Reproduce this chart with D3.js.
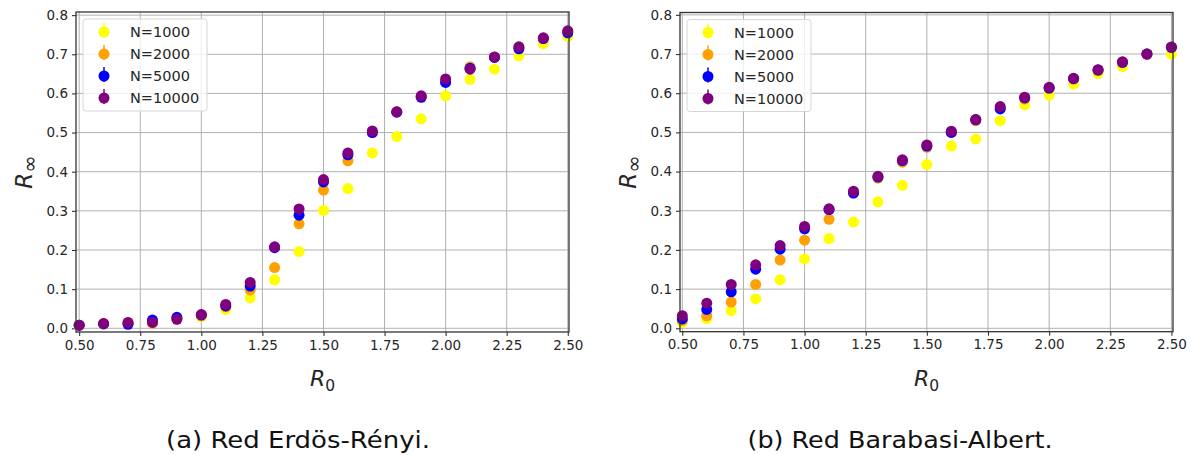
<!DOCTYPE html>
<html>
<head>
<meta charset="utf-8">
<script src="https://cdn.jsdelivr.net/npm/d3@7"></script>
<style>
  html, body { margin: 0; padding: 0; background: #fff; }
  svg { display: block; }
</style>
</head>
<body>
<svg id="chart" width="1195" height="455"></svg>
<script>
// R0 values sampled for both networks
const r0Values = [0.5, 0.6, 0.7, 0.8, 0.9, 1.0, 1.1, 1.2, 1.3, 1.4, 1.5,
                  1.6, 1.7, 1.8, 1.9, 2.0, 2.1, 2.2, 2.3, 2.4, 2.5];

const seriesNames = ["N=1000", "N=2000", "N=5000", "N=10000"];
const seriesColors = ["#ffff00", "#ffa000", "#0000ff", "#800080"];

// Erdös-Rényi network: final epidemic size R_inf per population size
const erN1000  = [0.007, 0.011, 0.013, 0.014, 0.024, 0.030, 0.048, 0.078, 0.124, 0.196, 0.301,
                  0.357, 0.448, 0.490, 0.535, 0.594, 0.636, 0.662, 0.696, 0.727, 0.746];
const erN2000  = [0.008, 0.012, 0.014, 0.013, 0.024, 0.032, 0.055, 0.098, 0.155, 0.267, 0.353,
                  0.428, 0.500, 0.553, 0.592, 0.632, 0.668, 0.693, 0.718, 0.740, 0.758];
const erN5000  = [0.008, 0.011, 0.010, 0.021, 0.028, 0.034, 0.057, 0.108, 0.206, 0.289, 0.374,
                  0.443, 0.500, 0.552, 0.590, 0.628, 0.664, 0.692, 0.714, 0.740, 0.755];
const erN10000 = [0.008, 0.012, 0.015, 0.015, 0.023, 0.035, 0.061, 0.117, 0.208, 0.305, 0.380,
                  0.448, 0.504, 0.553, 0.594, 0.637, 0.662, 0.693, 0.719, 0.742, 0.760];

// Barabasi-Albert network
const baN1000  = [0.015, 0.025, 0.045, 0.075, 0.124, 0.177, 0.229, 0.271, 0.323, 0.365, 0.418,
                  0.465, 0.483, 0.530, 0.570, 0.595, 0.623, 0.650, 0.668, 0.700, 0.700];
const baN2000  = [0.020, 0.032, 0.067, 0.112, 0.174, 0.225, 0.278, 0.345, 0.383, 0.424, 0.462,
                  0.500, 0.530, 0.562, 0.585, 0.612, 0.636, 0.658, 0.678, 0.700, 0.716];
const baN5000  = [0.024, 0.048, 0.093, 0.151, 0.202, 0.254, 0.303, 0.345, 0.386, 0.428, 0.465,
                  0.500, 0.532, 0.560, 0.588, 0.613, 0.637, 0.659, 0.679, 0.700, 0.717];
const baN10000 = [0.032, 0.064, 0.112, 0.162, 0.211, 0.260, 0.305, 0.350, 0.388, 0.430, 0.468,
                  0.503, 0.533, 0.566, 0.590, 0.615, 0.638, 0.660, 0.680, 0.700, 0.718];

const xTicks = [0.50, 0.75, 1.00, 1.25, 1.50, 1.75, 2.00, 2.25, 2.50];
const yTicks = [0.0, 0.1, 0.2, 0.3, 0.4, 0.5, 0.6, 0.7, 0.8];

const captions = ["(a) Red Erdös-Rényi.", "(b) Red Barabasi-Albert."];

const svg = d3.select("#chart");
const tickFont = "DejaVu Sans, sans-serif";
const textColor = "#262626";

function drawPanel(cfg) {
  const x = d3.scaleLinear().domain(cfg.xDomain).range([cfg.left, cfg.right]);
  const y = d3.scaleLinear().domain(cfg.yDomain).range([cfg.bottom, cfg.top]);
  const g = svg.append("g");

  // grid
  g.append("g").selectAll("line.vg").data(xTicks).join("line")
    .attr("x1", d => x(d)).attr("x2", d => x(d))
    .attr("y1", cfg.top).attr("y2", cfg.bottom)
    .attr("stroke", "#b0b0b0").attr("stroke-width", 1);
  g.append("g").selectAll("line.hg").data(yTicks).join("line")
    .attr("x1", cfg.left).attr("x2", cfg.right)
    .attr("y1", d => y(d)).attr("y2", d => y(d))
    .attr("stroke", "#b0b0b0").attr("stroke-width", 1);

  // axes
  const xAxis = d3.axisBottom(x).tickValues(xTicks).tickFormat(d3.format(".2f"))
    .tickSize(4).tickPadding(4);
  const yAxis = d3.axisLeft(y).tickValues(yTicks).tickFormat(d3.format(".1f"))
    .tickSize(4).tickPadding(4);

  const gx = g.append("g").attr("transform", `translate(0,${cfg.bottom})`).call(xAxis);
  const gy = g.append("g").attr("transform", `translate(${cfg.left},0)`).call(yAxis);
  [gx, gy].forEach(a => {
    a.select(".domain").remove();
    a.selectAll(".tick line").attr("stroke", "#333").attr("stroke-width", 1.1);
    a.selectAll(".tick text").attr("fill", textColor)
      .style("font-family", tickFont).style("font-size", "13.5px");
  });

  // data points, drawn so the largest network ends up on top
  cfg.series.forEach((vals, i) => {
    g.append("g").selectAll("circle").data(vals).join("circle")
      .attr("cx", (d, j) => x(r0Values[j]))
      .attr("cy", d => y(d))
      .attr("r", 5.5)
      .attr("fill", seriesColors[i]);
  });

  // frame
  g.append("rect")
    .attr("x", cfg.left).attr("y", cfg.top)
    .attr("width", cfg.right - cfg.left).attr("height", cfg.bottom - cfg.top)
    .attr("fill", "none").attr("stroke", "#333").attr("stroke-width", 1.3);

  // legend
  const lg = g.append("g").attr("transform", `translate(${cfg.left + 7},${cfg.top + 7})`);
  lg.append("rect").attr("width", 124).attr("height", 92).attr("rx", 3)
    .attr("fill", "#fff").attr("fill-opacity", 0.8)
    .attr("stroke", "#d6d6d6").attr("stroke-width", 1);
  seriesNames.forEach((name, i) => {
    const cy = 13 + i * 22;
    lg.append("line").attr("x1", 21).attr("x2", 21)
      .attr("y1", cy - 9).attr("y2", cy + 6)
      .attr("stroke", seriesColors[i]).attr("stroke-width", 1.5);
    lg.append("circle").attr("cx", 21).attr("cy", cy).attr("r", 5.5)
      .attr("fill", seriesColors[i]);
    lg.append("text").attr("x", 47).attr("y", cy).attr("dy", "0.35em")
      .attr("fill", textColor)
      .style("font-family", tickFont).style("font-size", "14.5px")
      .text(name);
  });

  // axis labels
  const cx = (cfg.left + cfg.right) / 2;
  const xl = g.append("text").attr("x", cx).attr("y", 386)
    .attr("text-anchor", "middle").attr("fill", textColor)
    .style("font-family", tickFont).style("font-size", "22px");
  xl.append("tspan").style("font-style", "italic").text("R");
  xl.append("tspan").attr("dy", 5).style("font-size", "15.5px").text("0");

  const cy = (cfg.top + cfg.bottom) / 2;
  const yl = g.append("text")
    .attr("transform", `translate(${cfg.left - 44},${cy}) rotate(-90)`)
    .attr("text-anchor", "middle").attr("fill", textColor)
    .style("font-family", tickFont).style("font-size", "23px");
  yl.append("tspan").style("font-style", "italic").text("R");
  yl.append("tspan").attr("dy", 5).style("font-size", "21px").text("∞");

  // caption
  svg.append("text").attr("x", cfg.captionX).attr("y", 448)
    .attr("text-anchor", "middle").attr("fill", "#111")
    .attr("textLength", cfg.captionWidth).attr("lengthAdjust", "spacingAndGlyphs")
    .style("font-family", "DejaVu Sans, sans-serif").style("font-size", "22.5px")
    .style("font-weight", 400)
    .text(cfg.caption);
}

drawPanel({
  left: 76, right: 569, top: 12, bottom: 332,
  xDomain: [0.487, 2.505], yDomain: [-0.0095, 0.808],
  series: [erN1000, erN2000, erN5000, erN10000],
  caption: captions[0], captionX: 298, captionWidth: 264
});

drawPanel({
  left: 680, right: 1173, top: 12.5, bottom: 331.7,
  xDomain: [0.4906, 2.5065], yDomain: [-0.0087, 0.806],
  series: [baN1000, baN2000, baN5000, baN10000],
  caption: captions[1], captionX: 900, captionWidth: 305
});
</script>
</body>
</html>
